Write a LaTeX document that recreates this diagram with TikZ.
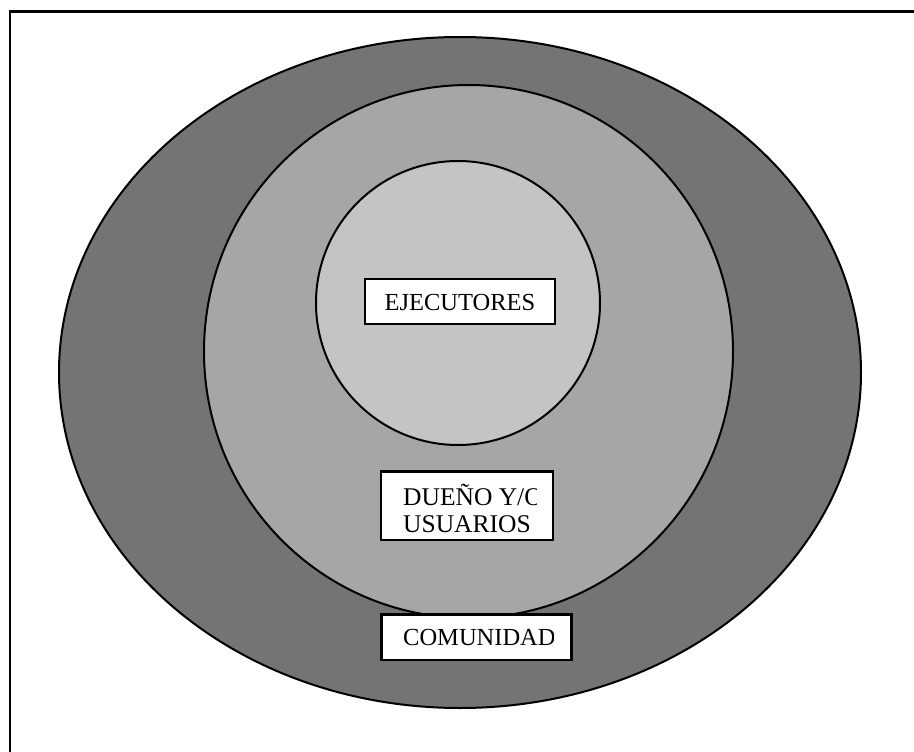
\documentclass[tikz,border=0pt]{standalone}
\usepackage{fontspec}
\setmainfont{Liberation Serif}
\usetikzlibrary{shapes.geometric}
\definecolor{gOuter}{HTML}{747474}
\definecolor{gMid}{HTML}{A6A6A6}
\definecolor{gIn}{HTML}{C4C4C4}
\tikzset{
  ring/.style={ellipse, draw=black, line width=2pt, inner sep=0pt},
  boxst/.style={rectangle, draw=black, fill=white, line width=2.6pt, inner sep=0pt},
  lbl/.style={inner sep=0pt, font=\fontsize{25.5}{28}\selectfont}
}
\begin{document}
\begin{tikzpicture}[x=1pt,y=-1pt]
\useasboundingbox (0,0) rectangle (914,752);
\fill[white] (0,0) rectangle (914,752);
\clip (0,0) rectangle (914,752);
\draw[line width=2.6pt] (930,11.5) -- (10,11.5) -- (10,770);
\node[ring, fill=gOuter, minimum width=802, minimum height=671] (outer) at (460,372.5) {};
\node[ring, fill=gMid, minimum width=529, minimum height=533] (mid) at (468.5,351.5) {};
\node[ring, fill=gIn, minimum width=284, minimum height=284] (inner) at (458,303) {};
% EJECUTORES
\node[boxst, minimum width=190, minimum height=45] (ejbox) at (460,301.5) {};
\node[lbl, font=\fontsize{24.5}{28}\selectfont, anchor=base] (ej) at (460,310) {EJECUTORES};
% DUENO
\node[boxst, minimum width=172, minimum height=68.5] (dubox) at (467,505.75) {};
\begin{scope}
\clip (383,473) rectangle (536,538);
\node[lbl, anchor=base west] (du1) at (403,505) {DUEÑO Y/O};
\node[lbl, anchor=base west] (du2) at (403,532) {USUARIOS};
\end{scope}
% COMUNIDAD
\node[boxst, minimum width=190, minimum height=45.5] (cobox) at (476.5,637.25) {};
\begin{scope}
\clip (383,616) rectangle (553,658);
\node[lbl, font=\fontsize{24.5}{28}\selectfont, anchor=base west] (co) at (403,645) {COMUNIDAD};
\end{scope}
\end{tikzpicture}
\end{document}
